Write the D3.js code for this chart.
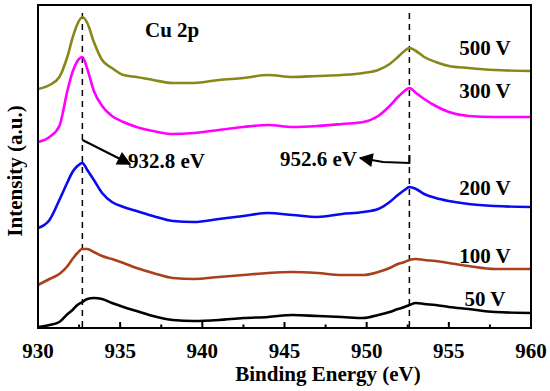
<!DOCTYPE html>
<html>
<head>
<meta charset="utf-8">
<script src="https://cdn.jsdelivr.net/npm/d3@7"></script>
<style>
  body { margin: 0; background: #fff; }
  text { font-family: "Liberation Serif", "Times New Roman", serif; font-weight: bold; fill: #000; }
</style>
</head>
<body>
<script>
// binding energy grid (eV)
var energies = [930, 930.7, 931.3, 931.8, 932.1, 932.4, 932.7, 933.0, 933.4, 933.9,
  934.5, 935.2, 936.0, 937.0, 938.2, 939.5, 941, 942.5, 944, 945.5,
  947, 948.5, 949.8, 950.7, 951.4, 951.9, 952.3, 952.6, 953.0, 953.5,
  954.2, 955, 956.2, 957.8, 960];

// intensity (a.u., stacked as in the figure)
var v500 = [239, 243, 251, 272, 290, 304, 311, 305, 286, 268, 260, 253, 251, 248, 245, 245, 248, 250, 253, 251,
  252, 253, 255, 258, 264, 271, 277, 280, 277, 271, 266, 262, 260, 258, 257];
var v300 = [186, 191, 202, 238, 256, 267, 271, 259, 237, 222, 212, 206, 201, 197, 194, 195, 198, 201, 203, 201,
  202, 204, 206, 212, 222, 231, 237, 240, 235, 229, 222, 216, 212, 211, 211];
var v200 = [100, 108, 128, 146, 156, 162, 165, 158, 148, 135, 126, 121, 117, 112, 107, 106, 109, 112, 115, 113,
  111, 114, 116, 119, 126, 133, 138, 141, 139, 134, 130, 127, 124, 122, 121];
var v100 = [43, 49, 54, 62, 69, 75, 79, 79, 76, 72, 69, 65, 60, 55, 50, 49, 51, 53, 55, 56,
  55, 53, 53, 56, 60, 64, 66, 68, 69, 68, 67, 65, 62, 59, 59];
var v50 = [1, 3, 6, 14, 18, 23, 26, 29, 30, 29, 25, 21, 17, 12, 8, 7, 8, 10, 11, 13,
  12, 11, 10, 13, 16, 19, 21, 23, 25, 24, 23, 21, 19, 16, 15];

var seriesNames = ['500 V', '300 V', '200 V', '100 V', '50 V'];
var seriesValues = [v500, v300, v200, v100, v50];
var seriesColors = ['#87871a', '#ff00ff', '#0a0af0', '#a8401c', '#000000'];
// label position (intensity where the label baseline sits)
var labelLevels = [273, 230, 133, 65, 22];

var xTicks = [930, 935, 940, 945, 950, 955, 960];
var minorTicks = [932.5, 937.5, 942.5, 947.5, 952.5, 957.5];
var peakLines = [932.7, 952.6];

var W = 550, H = 391;
var plotL = 38, plotR = 531, plotT = 5, plotB = 328;

var svg = d3.select('body').append('svg')
  .attr('width', W)
  .attr('height', H);

var x = d3.scaleLinear().domain([930, 960]).range([plotL, plotR]);
var y = d3.scaleLinear().domain([0, 323]).range([plotB, plotT]);

var line = d3.line()
  .x(function(d) { return x(d[0]); })
  .y(function(d) { return y(d[1]); })
  .curve(d3.curveMonotoneX);

// dashed peak lines
svg.selectAll('line.peak')
  .data(peakLines)
  .enter().append('line')
  .attr('class', 'peak')
  .attr('x1', function(d) { return x(d); })
  .attr('x2', function(d) { return x(d); })
  .attr('y1', plotT + 8)
  .attr('y2', plotB)
  .attr('stroke', '#000')
  .attr('stroke-width', 1.5)
  .attr('stroke-dasharray', '6,5');

// spectra
svg.selectAll('path.spec')
  .data(seriesValues)
  .enter().append('path')
  .attr('class', 'spec')
  .attr('fill', 'none')
  .attr('stroke', function(d, i) { return seriesColors[i]; })
  .attr('stroke-width', 2.6)
  .attr('stroke-linejoin', 'round')
  .attr('d', function(vals) {
    return line(energies.map(function(e, i) { return [e, vals[i]]; }));
  });

// series labels
svg.selectAll('text.series')
  .data(seriesNames)
  .enter().append('text')
  .attr('class', 'series')
  .attr('x', x(957.2))
  .attr('y', function(d, i) { return y(labelLevels[i]); })
  .attr('text-anchor', 'middle')
  .style('font-size', '21px')
  .text(function(d) { return d; });

// frame
svg.append('rect')
  .attr('x', plotL).attr('y', plotT)
  .attr('width', plotR - plotL).attr('height', plotB - plotT)
  .attr('fill', 'none')
  .attr('stroke', '#000')
  .attr('stroke-width', 2);

// ticks (inward)
svg.selectAll('line.major')
  .data(xTicks)
  .enter().append('line')
  .attr('class', 'major')
  .attr('x1', function(d) { return x(d); }).attr('x2', function(d) { return x(d); })
  .attr('y1', plotB).attr('y2', plotB - 6)
  .attr('stroke', '#000').attr('stroke-width', 2);

svg.selectAll('line.minor')
  .data(minorTicks)
  .enter().append('line')
  .attr('class', 'minor')
  .attr('x1', function(d) { return x(d); }).attr('x2', function(d) { return x(d); })
  .attr('y1', plotB).attr('y2', plotB - 3.5)
  .attr('stroke', '#000').attr('stroke-width', 2);

svg.selectAll('text.tick')
  .data(xTicks)
  .enter().append('text')
  .attr('class', 'tick')
  .attr('x', function(d) { return x(d); })
  .attr('y', 358)
  .attr('text-anchor', 'middle')
  .style('font-size', '21px')
  .text(function(d) { return d; });

// axis titles
svg.append('text')
  .attr('x', 328).attr('y', 381)
  .attr('text-anchor', 'middle')
  .style('font-size', '21px')
  .text('Binding Energy (eV)');

svg.append('text')
  .attr('transform', 'translate(22,171) rotate(-90)')
  .attr('text-anchor', 'middle')
  .style('font-size', '21px')
  .text('Intensity (a.u.)');

svg.append('text')
  .attr('x', 145).attr('y', 37)
  .style('font-size', '21px')
  .text('Cu 2p');

// arrows
var defs = svg.append('defs');
defs.append('marker')
  .attr('id', 'head')
  .attr('viewBox', '0 0 10 10')
  .attr('refX', 9).attr('refY', 5)
  .attr('markerWidth', 25).attr('markerHeight', 14)
  .attr('markerUnits', 'userSpaceOnUse')
  .attr('orient', 'auto')
  .append('path')
  .attr('d', 'M0,0 L10,5 L0,10 Z')
  .attr('fill', '#000');

svg.append('path')
  .attr('d', 'M' + x(932.7) + ',' + y(188) + ' L' + x(932.95) + ',' + y(186) + ' L' + x(935.6) + ',' + y(164))
  .attr('fill', 'none')
  .attr('stroke', '#000')
  .attr('stroke-width', 2)
  .attr('marker-end', 'url(#head)');

svg.append('text')
  .attr('x', 128).attr('y', 168)
  .style('font-size', '21px')
  .text('932.8 eV');

svg.append('path')
  .attr('d', 'M' + x(952.6) + ',' + y(173) + ' L' + x(952.6) + ',' + y(165) + ' L' + x(951.0) + ',' + y(166) + ' L' + x(949.6) + ',' + y(170))
  .attr('fill', 'none')
  .attr('stroke', '#000')
  .attr('stroke-width', 2)
  .attr('stroke-linejoin', 'miter')
  .attr('marker-end', 'url(#head)');

svg.append('text')
  .attr('x', 357).attr('y', 166)
  .attr('text-anchor', 'end')
  .style('font-size', '21px')
  .text('952.6 eV');
</script>
</body>
</html>
